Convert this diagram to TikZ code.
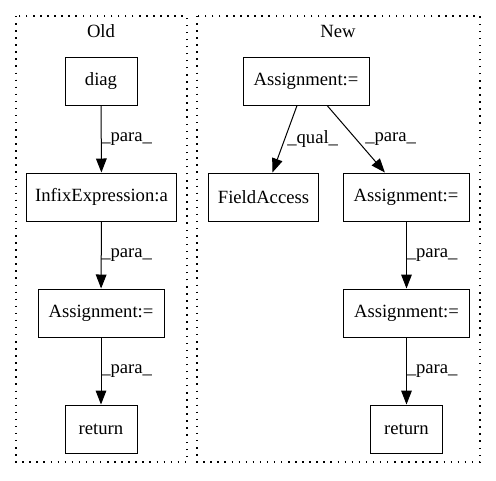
\documentclass[tikz,border=0pt]{standalone}
\usepackage{fontspec}
\setmainfont{Liberation Serif}
\usetikzlibrary{arrows.meta}
\begin{document}
\begin{tikzpicture}[x=0.75pt,y=-0.75pt,
  box/.style={draw,line width=0.75pt,minimum height=36pt,inner sep=0pt,font=\fontsize{14pt}{16pt}\selectfont},
  cluster/.style={draw,line width=0.9pt,dash pattern=on 1.1pt off 4.2pt},
  edge/.style={draw,line width=0.75pt,-{Triangle[length=10.5pt,width=8pt]}},
  elabel/.style={font=\fontsize{14pt}{16pt}\selectfont,inner sep=0pt},
  title/.style={font=\fontsize{14pt}{16pt}\selectfont,inner sep=0pt}]
\useasboundingbox (0,0) rectangle (496,480);
% clusters
\draw[cluster] (16,16) rectangle (187,462);
\draw[cluster] (197,16) rectangle (480,462);
\node[title] (told) at (101,31) {Old};
\node[title] (tnew) at (338,31) {New};
% old
\node[box,minimum width=54pt] (diag) at (101,81) {diag};
\node[box,minimum width=112pt] (infix) at (101.5,197) {InfixExpression:a};
\node[box,minimum width=94.5pt] (oasg) at (101,313) {Assignment:=};
\node[box,minimum width=54pt] (oret) at (101,429) {return};
\draw[edge] (diag) -- (infix);
\draw[edge] (infix) -- (oasg);
\draw[edge] (oasg) -- (oret);
\node[elabel,anchor=west] (l1) at (101,139) {\_para\_};
\node[elabel,anchor=west] (l2) at (101,255) {\_para\_};
\node[elabel,anchor=west] (l3) at (101,371) {\_para\_};
% new
\node[box,minimum width=94.5pt] (nasg) at (306,81) {Assignment:=};
\node[box,minimum width=83pt] (fa) at (263.5,197) {FieldAccess};
\node[box,minimum width=94.5pt] (masg) at (406,197) {Assignment:=};
\node[box,minimum width=94.5pt] (lasg) at (406.5,313) {Assignment:=};
\node[box,minimum width=54.5pt] (nret) at (406.5,429) {return};
\draw[edge] (nasg) -- (fa);
\draw[edge] (nasg) -- (masg);
\draw[edge] (masg.south -| lasg) -- (lasg);
\draw[edge] (lasg) -- (nret);
\node[elabel,anchor=west] (l4) at (287,139) {\_qual\_};
\node[elabel,anchor=west] (l5) at (365,139) {\_para\_};
\node[elabel,anchor=west] (l6) at (406.5,255) {\_para\_};
\node[elabel,anchor=west] (l7) at (406.5,371) {\_para\_};
\end{tikzpicture}
\end{document}
